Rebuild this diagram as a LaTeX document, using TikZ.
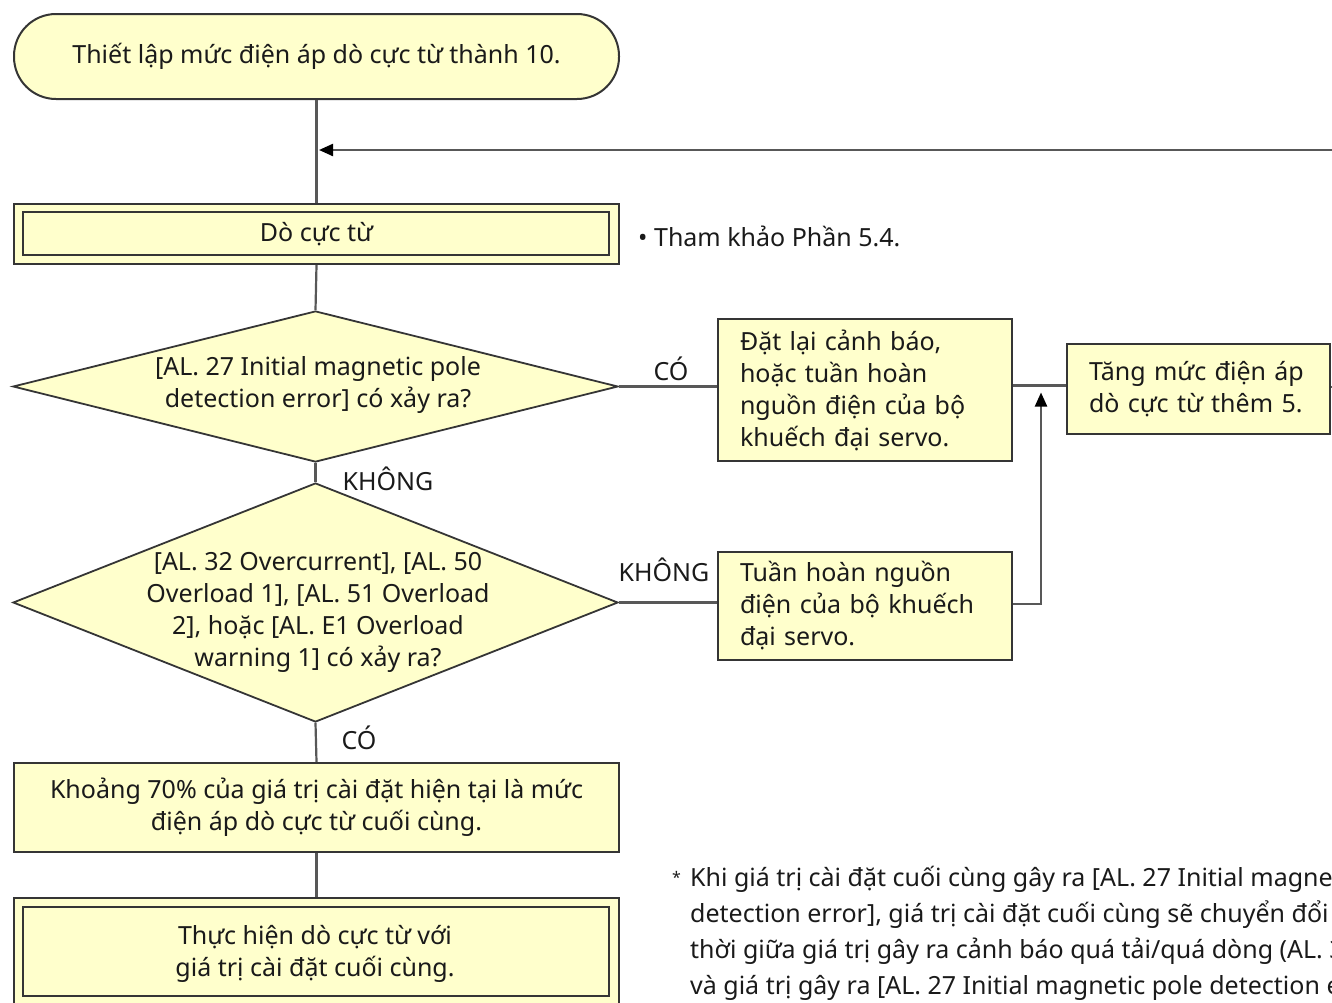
\documentclass[tikz,border=0pt]{standalone}
\usepackage{fontspec}
\setmainfont{Noto Sans}
\usetikzlibrary{shapes.geometric,arrows.meta}
\definecolor{boxfill}{HTML}{FFFFCC}
\definecolor{edgecol}{HTML}{353535}
\definecolor{conn}{HTML}{585858}
\definecolor{ink}{HTML}{1A1A1A}
\begin{document}
\begin{tikzpicture}[x=1pt,y=-1pt,
  font=\fontsize{25}{32}\selectfont, text=ink,
  box/.style={draw=edgecol, line width=2pt, fill=boxfill, rectangle, inner sep=0pt, anchor=north west},
  term/.style={box, rounded corners=42pt},
  lbox/.style={box, align=left, inner xsep=22pt},
  dia/.style={draw=edgecol, line width=1.8pt, fill=boxfill, diamond, inner sep=0pt},
  line/.style={draw=conn, line width=2.2pt},
  arr/.style={line, -{Triangle[length=14pt,width=12pt,color=black]}},
  lbl/.style={inner sep=0pt}
]
\useasboundingbox (0,0) rectangle (1332,1002);
\clip (0,0) rectangle (1332,1002);

% nodes
\node[term, minimum width=605pt, minimum height=85pt] (start) at (13,13) {Thiết lập mức điện áp dò cực từ thành 10.};
\node[box, minimum width=605pt, minimum height=60pt] (detect) at (13,203) {Dò cực từ};
\draw[draw=edgecol, line width=1.8pt] ([shift={(10pt,-9pt)}]detect.north west) rectangle ([shift={(-11pt,10pt)}]detect.south east);
\node[lbl, anchor=west] (ref) at (638,236) {• Tham khảo Phần 5.4.};

\node[dia, minimum width=605pt, minimum height=151pt] (d1) at (315.5,386.5) {};
\node[align=center] at (318,385) {[AL. 27 Initial magnetic pole\\detection error] có xảy ra?};

\node[dia, minimum width=605pt, minimum height=239pt] (d2) at (315.5,602.5) {};
\node[align=center] at (318,612) {[AL. 32 Overcurrent], [AL. 50\\Overload 1], [AL. 51 Overload\\2], hoặc [AL. E1 Overload\\warning 1] có xảy ra?};

\node[lbox, text width=250pt, minimum height=142pt] (reset) at (717,318) {Đặt lại cảnh báo,\\hoặc tuần hoàn\\nguồn điện của bộ\\khuếch đại servo.};
\node[lbox, text width=219pt, minimum height=90pt] (inc) at (1066,343) {Tăng mức điện áp\\dò cực từ thêm 5.};
\node[lbox, text width=250pt, minimum height=108pt] (cycle) at (717,551) {Tuần hoàn nguồn\\điện của bộ khuếch\\đại servo.};

\node[box, minimum width=605pt, minimum height=89pt, align=center] (final) at (13,762) {Khoảng 70\% của giá trị cài đặt hiện tại là mức\\điện áp dò cực từ cuối cùng.};
\node[box, minimum width=605pt, minimum height=110pt, align=center] (exec) at (13,897) {};
\draw[draw=edgecol, line width=1.8pt] ([shift={(10pt,-10pt)}]exec.north west) rectangle ([shift={(-11pt,13pt)}]exec.south east);
\node[align=center] at (315,954) {Thực hiện dò cực từ với\\giá trị cài đặt cuối cùng.};

\node[lbl, anchor=north west, align=left, font=\fontsize{25}{36}\selectfont] (note) at (672,866)
 {\makebox[18pt][l]{\raisebox{3pt}{\fontsize{16}{16}\selectfont*}}Khi giá trị cài đặt cuối cùng gây ra [AL. 27 Initial magnetic\\
  \hspace*{18pt}detection error], giá trị cài đặt cuối cùng sẽ chuyển đổi tạm\\
  \hspace*{18pt}thời giữa giá trị gây ra cảnh báo quá tải/quá dòng (AL. 32\\
  \hspace*{18pt}và giá trị gây ra [AL. 27 Initial magnetic pole detection error]};

% connectors
\coordinate (join) at (315,150);
\coordinate (merge) at (1041,385.5);
\draw[line] (start.south) -- (detect.north);
\draw[line] (detect.south) -- (d1.north);
\draw[line] (d1.east) -- (reset.west |- d1.east);
\node[lbl] at (671,369) {CÓ};
\draw[line] (d1.south) -- (d2.north);
\node[lbl] at (388,479) {KHÔNG};
\draw[line] (d2.east) -- (cycle.west |- d2.east);
\node[lbl] at (664,570) {KHÔNG};
\draw[line] (reset.east |- merge) -- (inc.west |- merge);
\draw[arr, shorten >=7pt] (cycle.east |- 0,604) -- (1041,604) -- (merge);
\draw[line] (d2.south) -- (final.north);
\node[lbl] at (359,738) {CÓ};
\draw[line] (final.south) -- (exec.north);
\draw[arr, shorten >=4pt] (inc.east |- 0,387) -- (1352,387) -- (1352,150) -- (join);
\end{tikzpicture}
\end{document}
